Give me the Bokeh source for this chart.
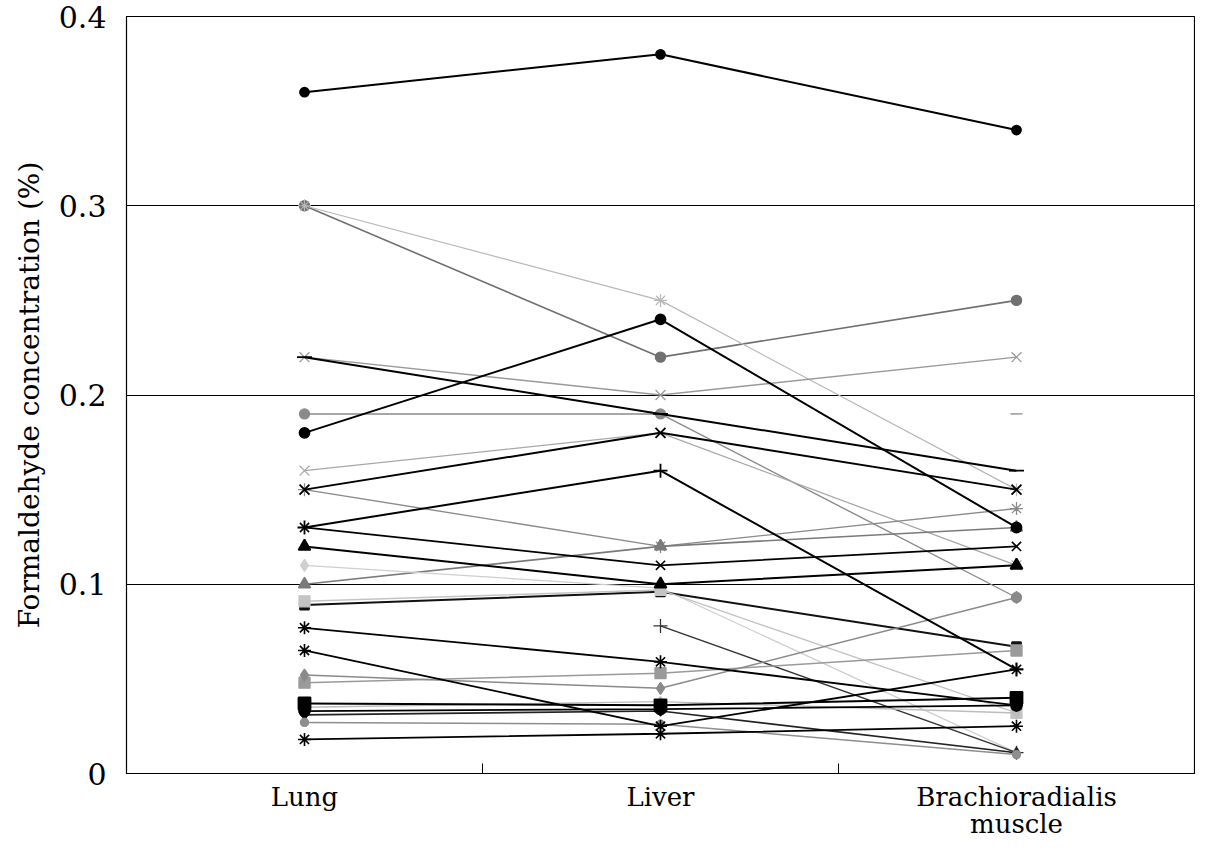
from bokeh.plotting import figure
from bokeh.models import Range1d, FixedTicker
from bokeh.embed import file_html
from bokeh.resources import INLINE

nan = float("nan")

# Categories (x axis)
categories = ["Lung", "Liver", "Brachioradialis\nmuscle"]

# Formaldehyde concentration (%) per case: [Lung, Liver, Brachioradialis muscle]
case01 = [0.36, 0.38, 0.34]
case02 = [0.30, 0.22, 0.25]
case03 = [0.30, 0.25, 0.15]
case04 = [0.22, 0.19, 0.16]
case05 = [0.22, 0.20, 0.22]
case06 = [0.19, 0.19, 0.093]
case07 = [0.18, 0.24, 0.13]
case08 = [0.16, 0.18, 0.11]
case09 = [0.15, 0.18, 0.15]
case10 = [0.15, 0.12, 0.14]
case11 = [0.13, 0.16, 0.055]
case12 = [0.13, 0.11, 0.12]
case13 = [0.12, 0.10, 0.11]
case14 = [0.10, 0.12, 0.13]
case15 = [0.11, 0.098, 0.011]
case16 = [0.089, 0.096, 0.067]
case17 = [0.091, 0.097, 0.032]
case18 = [0.077, 0.059, 0.036]
case19 = [0.065, 0.025, 0.055]
case20 = [nan, 0.078, 0.011]
case21 = [0.048, 0.053, 0.065]
case22 = [0.052, 0.045, 0.093]
case23 = [0.037, 0.036, 0.040]
case24 = [0.033, 0.034, 0.036]
case25 = [0.031, 0.033, 0.011]
case26 = [0.027, 0.026, 0.010]
case27 = [0.035, 0.038, 0.032]
case28 = [0.018, 0.021, 0.025]
case29 = [nan, nan, 0.19]

cases = [case01, case02, case03, case04, case05, case06, case07, case08, case09,
         case10, case11, case12, case13, case14, case15, case16, case17, case18,
         case19, case20, case21, case22, case23, case24, case25, case26, case27,
         case28, case29]

y_ticks = [0, 0.1, 0.2, 0.3, 0.4]
y_tick_labels = ["0", "0.1", "0.2", "0.3", "0.4"]

# Styles (color, marker, marker size, line width)
styles = [
    ("#000000", "circle", 9, 2.0),
    ("#707070", "circle", 10, 1.6),
    ("#b8b8b8", "asterisk", 13, 1.2),
    ("#000000", "dash", 15, 2.0),
    ("#9a9a9a", "x", 14, 1.4),
    ("#8a8a8a", "circle", 10, 1.4),
    ("#000000", "circle", 10, 2.0),
    ("#a8a8a8", "x", 14, 1.3),
    ("#000000", "x", 14, 2.0),
    ("#8a8a8a", "asterisk", 13, 1.4),
    ("#000000", "cross", 14, 2.0),
    ("#000000", "x", 13, 1.8),
    ("#000000", "triangle", 12, 2.0),
    ("#7a7a7a", "triangle", 12, 1.6),
    ("#cfcfcf", "diamond", 12, 1.3),
    ("#111111", "square", 9, 2.0),
    ("#c4c4c4", "square", 11, 1.4),
    ("#000000", "asterisk", 13, 1.8),
    ("#000000", "asterisk", 13, 1.8),
    ("#333333", "cross", 14, 1.4),
    ("#9a9a9a", "square", 11, 1.5),
    ("#8a8a8a", "diamond", 12, 1.5),
    ("#000000", "square", 12, 2.0),
    ("#000000", "circle", 11, 1.8),
    ("#222222", "diamond", 10, 1.6),
    ("#8e8e8e", "circle", 8, 1.5),
    ("#bdbdbd", "diamond", 10, 1.4),
    ("#000000", "asterisk", 13, 1.8),
    ("#8a8a8a", "dash", 12, 1.5),
]

xs = [i + 0.5 for i in range(len(categories))]

FONT = "DejaVu Serif"

p = figure(width=1195, height=841, output_backend="svg", toolbar_location=None,
           x_range=Range1d(0, len(categories)), y_range=Range1d(0, 0.4),
           min_border_left=126, min_border_top=16, min_border_right=1,
           min_border_bottom=10)

p.background_fill_color = "white"
p.border_fill_color = "white"
p.outline_line_color = "black"
p.outline_line_width = 1.2

# draw lighter series first, black on top
order = sorted(range(len(cases)), key=lambda i: 0 if styles[i][0] != "#000000" else 1)
for i in order:
    color, marker, size, lw = styles[i]
    ys = cases[i]
    p.line(xs, ys, line_color=color, line_width=lw)
    p.scatter(xs, ys, marker=marker, size=size, line_color=color,
              fill_color=color, line_width=max(1.2, lw * 0.9))

# x axis: labels at category centers, small inward ticks at boundaries
p.xaxis.ticker = FixedTicker(ticks=xs, minor_ticks=[1, 2])
p.xaxis.major_label_overrides = {x: c for x, c in zip(xs, categories)}
p.xaxis.major_tick_line_color = None
p.xaxis.minor_tick_in = 10
p.xaxis.minor_tick_out = 0
p.xaxis.minor_tick_line_color = "black"
p.xaxis.axis_line_color = "black"
p.xaxis.major_label_text_font = FONT
p.xaxis.major_label_text_font_size = "26px"
p.xaxis.major_label_text_line_height = 0.9
p.xaxis.major_label_text_color = "black"
p.xaxis.major_label_standoff = 2

# y axis
p.yaxis.ticker = FixedTicker(ticks=y_ticks)
p.yaxis.major_label_overrides = {t: s for t, s in zip(y_ticks, y_tick_labels)}
p.yaxis.major_tick_line_color = None
p.yaxis.minor_tick_line_color = None
p.yaxis.axis_line_color = "black"
p.yaxis.major_label_text_font = FONT
p.yaxis.major_label_text_font_size = "30px"
p.yaxis.major_label_text_color = "black"
p.yaxis.major_label_standoff = 14
p.yaxis.axis_label = "Formaldehyde concentration (%)"
p.yaxis.axis_label_text_font = FONT
p.yaxis.axis_label_text_font_size = "28px"
p.yaxis.axis_label_text_font_style = "normal"
p.yaxis.axis_label_text_color = "black"
p.yaxis.axis_label_standoff = 10

p.xgrid.grid_line_color = None
p.ygrid.grid_line_color = "black"
p.ygrid.grid_line_width = 1

open("out.html", "w").write(file_html(p, INLINE))
